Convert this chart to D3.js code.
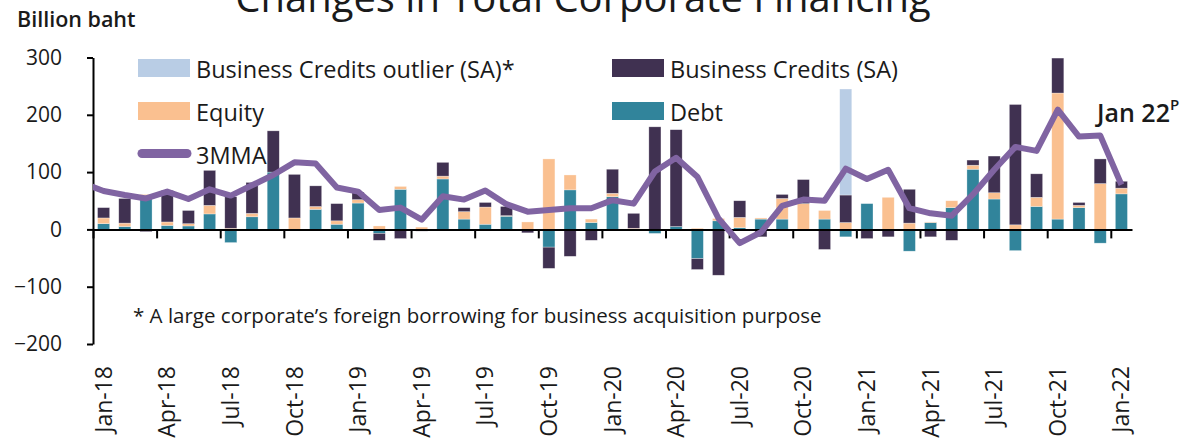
<!DOCTYPE html>
<html><head><meta charset="utf-8">
<script src="https://cdn.jsdelivr.net/npm/d3@7"></script>
<style>
body{margin:0;background:#fff;}
svg text{font-family:'Open Sans',sans-serif;fill:#1a1a1a;}
</style>
</head><body>
<svg id="c" width="1181" height="439"></svg>
<script>
const months = ["Jan-18","Feb-18","Mar-18","Apr-18","May-18","Jun-18","Jul-18","Aug-18","Sep-18","Oct-18","Nov-18","Dec-18",
"Jan-19","Feb-19","Mar-19","Apr-19","May-19","Jun-19","Jul-19","Aug-19","Sep-19","Oct-19","Nov-19","Dec-19",
"Jan-20","Feb-20","Mar-20","Apr-20","May-20","Jun-20","Jul-20","Aug-20","Sep-20","Oct-20","Nov-20","Dec-20",
"Jan-21","Feb-21","Mar-21","Apr-21","May-21","Jun-21","Jul-21","Aug-21","Sep-21","Oct-21","Nov-21","Dec-21","Jan-22"];
const debt = [10,5,58,7,6,27,-23,22,100,-2,35,9, 46,-7,70,-1,88,18,9,23,0,-31,69,12, 57,0,-7,5,-51,15,3,18,18,0,18,-13, 45,0,-38,12,38,105,53,-37,40,18,38,-24, 62];
const equity = [10,6,3,6,4,15,2,6,0,20,5,6, 6,6,5,4,5,13,30,1,13,123,26,6, 6,2,0,0,2,4,18,2,36,45,15,12, 0,56,11,1,12,7,11,8,16,220,4,80, 10];
const businessCredits = [18,43,-4,55,23,61,55,54,72,76,36,30, 13,-12,-16,-2,24,7,8,16,-6,-37,-47,-19, 42,26,179,169,-19,-80,29,-13,7,42,-35,48, -16,-13,59,-13,-19,9,64,210,41,61,5,43, 12];
const outlier = [0,0,0,0,0,0,0,0,0,0,0,0, 0,0,0,0,0,0,0,0,0,0,0,0, 0,0,0,0,0,0,0,0,0,0,0,185, 0,0,0,0,0,0,0,0,0,0,0,0, 0];
const mma3 = [67,60,54,66,53,70,59,77,95,117,115,73, 66,34,38,17,58,52,68,44,31,34,37,37, 51,45,101,125,92,19,-24,-5,41,52,50,106, 88,104,37,28,24,61,104,144,137,209,162,164, 78];
const mmaPrev = 81; // Dec-17 value, line enters from the left edge
const yTicks = [300,200,100,0,-100,-200];
const xLabelEvery = 3;
const seriesNames = {debt:"Debt", equity:"Equity", bc:"Business Credits (SA)", outlier:"Business Credits outlier (SA)*", mma:"3MMA"};
const colors = {debt:"#31849B", equity:"#FAC090", bc:"#403151", outlier:"#B9CDE5", mma:"#8064A2"};

const svg = d3.select("#c");
const left = 93, right = 1132;
const x = d3.scaleBand().domain(months).range([left, right]).paddingInner(0.43).paddingOuter(0.215);
const xb = d3.scaleLinear().domain([0, months.length]).range([left, right]);
const y = d3.scaleLinear().domain([-200, 300]).range([344, 57.5]);

const rows = months.map((m,i)=>({month:m, debt:debt[i], equity:equity[i], bc:businessCredits[i], outlier:outlier[i]}));
const keys = ["debt","equity","bc","outlier"];
const stack = d3.stack().keys(keys).offset(d3.stackOffsetDiverging)(rows);

const defs = svg.append("defs");
defs.append("clipPath").attr("id","plot").append("rect").attr("x",left).attr("y",40).attr("width",right-left).attr("height",320);

// bars
const gb = svg.append("g");
stack.forEach(s=>{
  gb.append("g").attr("fill", colors[s.key]).selectAll("rect").data(s).join("rect")
    .attr("x", d=>x(d.data.month)).attr("width", x.bandwidth())
    .attr("y", d=>y(Math.max(d[0],d[1]))).attr("height", d=>Math.abs(y(d[0])-y(d[1])))
    .attr("stroke","#ffffff").attr("stroke-opacity",0.5).attr("stroke-width",0.6);
});

// axes
const yAxis = svg.append("g").attr("transform",`translate(${left},0)`)
  .call(d3.axisLeft(y).tickValues(yTicks).tickSize(6).tickSizeOuter(0).tickPadding(25));
yAxis.selectAll("path,line").attr("stroke","#000").attr("stroke-width",2);
yAxis.selectAll("text").attr("font-size",21).attr("fill","#1a1a1a").attr("font-family","'Open Sans',sans-serif");

const xAxis = svg.append("g").attr("transform",`translate(0,${y(0)})`)
  .call(d3.axisBottom(xb).tickValues(d3.range(0, months.length, xLabelEvery)).tickSize(9).tickSizeOuter(0).tickFormat(""));
xAxis.selectAll("path,line").attr("stroke","#000").attr("stroke-width",2);

// x labels
svg.append("g").selectAll("text").data(months.filter((m,i)=>i%xLabelEvery===0)).join("text")
  .attr("transform", d=>`translate(${x(d)+x.bandwidth()/2},366) rotate(-90)`)
  .attr("text-anchor","end").attr("dy","0.35em").attr("font-size",23).text(d=>d);

// 3MMA line
const cx = d=>x(d)+x.bandwidth()/2;
const pts = [[cx(months[0]) - x.step(), mmaPrev]].concat(months.map((m,i)=>[cx(m), mma3[i]]));
svg.append("path").attr("clip-path","url(#plot)")
  .attr("d", d3.line().x(d=>d[0]).y(d=>y(d[1]))(pts))
  .attr("fill","none").attr("stroke",colors.mma).attr("stroke-width",6).attr("stroke-linejoin","round");

// legend
const leg = svg.append("g");
const legItems = [
  {k:"outlier", x:138, y:59, type:"rect"},
  {k:"bc", x:612, y:59, type:"rect"},
  {k:"equity", x:138, y:102, type:"rect"},
  {k:"debt", x:612, y:102, type:"rect"},
  {k:"mma", x:138, y:145, type:"line"}
];
legItems.forEach(it=>{
  if(it.type==="rect"){
    leg.append("rect").attr("x",it.x).attr("y",it.y).attr("width",52).attr("height",18).attr("fill",colors[it.k]);
  } else {
    leg.append("line").attr("x1",it.x+4).attr("x2",it.x+49).attr("y1",it.y+8.5).attr("y2",it.y+8.5)
      .attr("stroke",colors.mma).attr("stroke-width",9).attr("stroke-linecap","round");
  }
  leg.append("text").attr("x",it.x+58).attr("y",it.y+19).attr("font-size",23.5).text(seriesNames[it.k]);
});

// titles & notes
svg.append("text").attr("x",583).attr("y",12).attr("text-anchor","middle").attr("font-size",40).text("Changes in Total Corporate Financing");
svg.append("text").attr("x",17).attr("y",27).attr("font-size",21.5).attr("font-weight",600).text("Billion baht");
const ann = svg.append("text").attr("x",1097).attr("y",122).attr("font-size",25).attr("font-weight",600);
ann.append("tspan").text("Jan 22");
ann.append("tspan").attr("dy",-12).attr("font-size",15).text("P");
svg.append("text").attr("x",133).attr("y",323).attr("font-size",20.5).text("* A large corporate’s foreign borrowing for business acquisition purpose");
</script>
</body></html>
